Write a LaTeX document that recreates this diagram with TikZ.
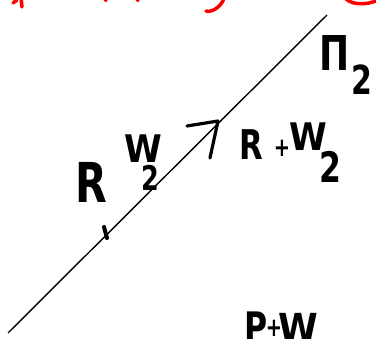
\documentclass[tikz,border=0pt]{standalone}
\usepackage{fontspec}
\setmainfont{DejaVu Sans}
\begin{document}
\begin{tikzpicture}[x=1pt,y=-1pt,
  hw/.style={font=\bfseries\fontsize{#1}{#1}\selectfont, text=black, inner sep=0pt},
  narrow/.style={xscale=0.75},
  wide/.style={xscale=0.9},
  redstroke/.style={red, line width=3.5pt, line cap=round}]
\useasboundingbox[fill=white] (0,0) rectangle (376,339);
% main line
\coordinate (a) at (8,333);
\coordinate (b) at (327,15);
\draw[line width=1.4pt] (a) -- (b);
% marks on the line
\coordinate (p) at (218,121);
\coordinate (q) at (106,232);
\draw[line width=3.2pt, line cap=round, line join=round] (187,126) -- (p) -- (210,158);
\draw[line width=4pt, line cap=round] (104,227) -- (107,238);
% labels
\node[hw=55, narrow] (r) at (91,182) {R};
\node[hw=38, wide] (w) at (143,149) {W};
\node[hw=34, narrow] (w2) at (150,178) {2};
\node[hw=41, narrow] (rr) at (251,145) {R};
\node[hw=26, narrow] (plus) at (282,148) {+};
\node[hw=38, wide] (rw) at (308,137) {W};
\node[hw=42, narrow] (rw2) at (330,167) {2};
\node[hw=48, narrow] (pi) at (335,53) {Π};
\node[hw=40, narrow] (pi2) at (362,80) {2};
\node[hw=42, narrow, anchor=north] (pp) at (256,312) {P};
\node[hw=26, narrow] (pplus) at (274,328) {+};
\node[hw=40, wide, anchor=north] (pw) at (298,313) {W};
% red fragments at the top edge
\draw[redstroke] (13,3) -- (17,0);
\draw[redstroke] (21,-2) -- (22,7);
\draw[redstroke] (105,-1) -- (106,0.5);
\draw[redstroke] (137,-1) -- (138,0.5);
\draw[redstroke] (224,-2) .. controls (222,6) and (212,13) .. (206,11);
\draw[redstroke] (344,-4) .. controls (348,5) and (366,6) .. (378,0);
\end{tikzpicture}
\end{document}
